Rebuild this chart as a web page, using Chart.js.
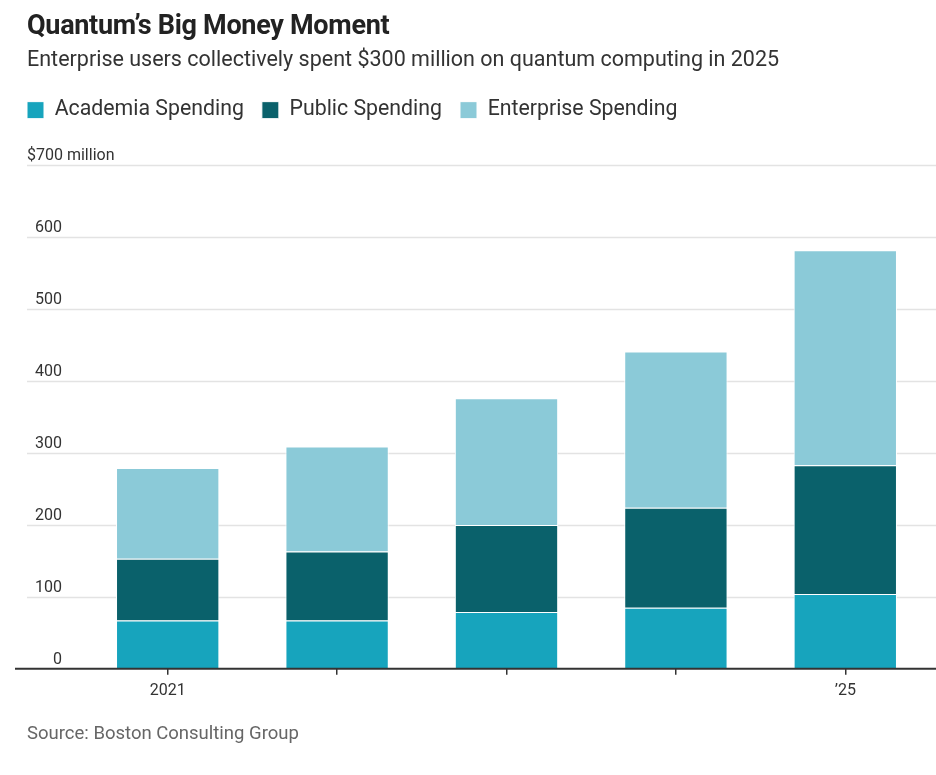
<!DOCTYPE html>
<html>
<head>
<meta charset="utf-8">
<title>Quantum’s Big Money Moment</title>
<script src="https://cdn.jsdelivr.net/npm/chart.js@4.4.1/dist/chart.umd.min.js"></script>
<style>
  body { margin: 0; background: #fff; font-family: Roboto, "Noto Sans", sans-serif; color: #333; }
  #wrap { position: relative; width: 936px; height: 775px; overflow: hidden; }
  #chart-box { position: absolute; left: 0; top: 0; width: 936px; height: 775px; }
  .txt { position: absolute; left: 27px; margin: 0; white-space: nowrap; }
  h1.txt { top: 9px; font-size: 27px; line-height: 33px; font-weight: 700; color: #222; letter-spacing: -0.3px; }
  .sub { top: 45px; font-size: 21.5px; line-height: 28px; color: #333; }
  .src { top: 721px; font-size: 18.5px; line-height: 24px; color: #666; }
</style>
</head>
<body>
<div id="wrap">
  <div id="chart-box"><canvas id="quantum-chart"></canvas></div>
  <h1 class="txt">Quantum’s Big Money Moment</h1>
  <p class="txt sub">Enterprise users collectively spent $300 million on quantum computing in 2025</p>
  <p class="txt src">Source: Boston Consulting Group</p>
</div>
<script>
// Dados (milhões de dólares)
const years = ['2021', '2022', '2023', '2024', '2025'];
const xTickLabels = ['2021', '', '', '', '’25'];
const academia = [67, 67, 79, 85, 104];
const publicSpend = [86, 96, 121, 139, 179];
const enterprise = [126, 146, 176, 217, 299];
const yTickLabels = ['0', '100', '200', '300', '400', '500', '600', '$700 million'];

const FONT = 'Roboto, "Noto Sans", sans-serif';

// Linhas de grade, eixo e rótulos do eixo Y desenhados a partir da escala
const wsjAxes = {
    id: 'wsjAxes',
    beforeDatasetsDraw(chart) {
        const ctx = chart.ctx;
        const y = chart.scales.y;
        ctx.save();
        ctx.strokeStyle = '#e3e3e3';
        ctx.lineWidth = 1.5;
        y.ticks.forEach((t) => {
            if (t.value === 0) return;
            const py = Math.round(y.getPixelForValue(t.value)) + 0.5;
            ctx.beginPath();
            ctx.moveTo(27, py);
            ctx.lineTo(936, py);
            ctx.stroke();
        });
        ctx.fillStyle = '#333';
        ctx.font = '16px ' + FONT;
        ctx.textBaseline = 'alphabetic';
        y.ticks.forEach((t, i) => {
            const py = y.getPixelForValue(t.value);
            const label = yTickLabels[i];
            if (i === y.ticks.length - 1) {
                ctx.textAlign = 'left';
                ctx.fillText(label, 27, py - 5);
            } else {
                ctx.textAlign = 'right';
                ctx.fillText(label, 62, py - 5);
            }
        });
        ctx.restore();
    },
    afterDatasetsDraw(chart) {
        const ctx = chart.ctx;
        const py = chart.scales.y.getPixelForValue(0);
        ctx.save();
        ctx.strokeStyle = '#333';
        ctx.lineWidth = 2;
        ctx.beginPath();
        ctx.moveTo(15, py);
        ctx.lineTo(936, py);
        ctx.stroke();
        ctx.restore();
    }
};

const ctx = document.getElementById('quantum-chart').getContext('2d');

new Chart(ctx, {
    type: 'bar',
    data: {
        labels: years,
        datasets: [
            { label: 'Academia Spending', data: academia, backgroundColor: '#17a4bd' },
            { label: 'Public Spending', data: publicSpend, backgroundColor: '#0a616b' },
            { label: 'Enterprise Spending', data: enterprise, backgroundColor: '#8bcad8' }
        ]
    },
    options: {
        responsive: true,
        maintainAspectRatio: false,
        animation: false,
        layout: {
            padding: { top: 81.5, left: 9, right: 6, bottom: 67 }
        },
        datasets: {
            bar: {
                borderColor: '#ffffff',
                borderWidth: 1,
                barPercentage: 0.61,
                categoryPercentage: 1
            }
        },
        scales: {
            x: {
                stacked: true,
                grid: {
                    display: true,
                    drawOnChartArea: false,
                    offset: false,
                    tickLength: 6,
                    color: '#333',
                    lineWidth: 1.5
                },
                border: { display: false },
                ticks: {
                    color: '#333',
                    font: { family: FONT, size: 16 },
                    padding: 7,
                    maxRotation: 0,
                    autoSkip: false,
                    callback: (value, index) => xTickLabels[index]
                }
            },
            // Eixo vazio só para reservar o espaço entre a legenda e a área do gráfico
            gap: {
                type: 'category',
                position: 'top',
                display: true,
                grid: { display: false },
                border: { display: false },
                ticks: { display: false },
                afterFit: (scale) => { scale.height = 34.5; }
            },
            y: {
                stacked: true,
                min: 0,
                max: 700,
                ticks: { display: false, stepSize: 100 },
                grid: { display: false },
                border: { display: false },
                afterFit: (scale) => { scale.width = 74; }
            }
        },
        plugins: {
            legend: {
                position: 'top',
                align: 'start',
                labels: {
                    color: '#333',
                    boxWidth: 17,
                    boxHeight: 17,
                    padding: 18,
                    font: { family: FONT, size: 21.3 }
                }
            },
            tooltip: { enabled: false }
        }
    },
    plugins: [wsjAxes]
});
</script>
</body>
</html>
